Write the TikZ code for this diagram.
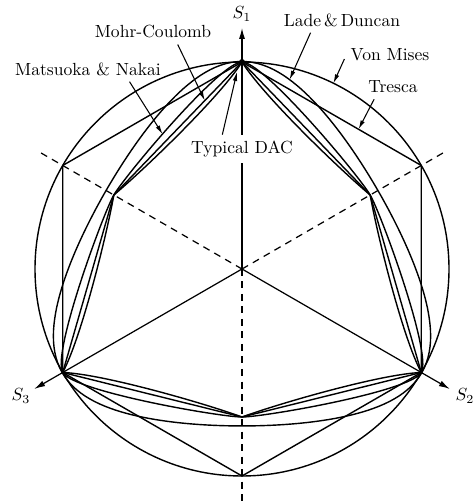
\documentclass[tikz,border=0pt]{standalone}
\usetikzlibrary{arrows.meta,calc}

\begin{document}
\begin{tikzpicture}[x=0.2mm,y=0.2mm,
  crit/.style={line width=0.8pt},
  axis/.style={-{Latex[length=2.2mm,width=1.2mm]},line width=0.7pt},
  lead/.style={-{Latex[length=1.8mm,width=0.9mm]},line width=0.6pt},
  meridian/.style={dash pattern=on 1.4mm off 1.1mm,line width=0.7pt}]
\useasboundingbox (-242,-233) rectangle (230,269);
\coordinate (O) at (0,0);
\foreach \a in {90,210,330} \coordinate (c\a) at (\a:207);
\foreach \a in {30,150,270} {\coordinate (t\a) at (\a:148); \coordinate (v\a) at (\a:207);}

% principal axes and tension meridians
\foreach \a in {30,150,270} \draw[meridian] (O) -- (\a:233);
\draw[axis] (O) -- (90:241) node[above] (s1) {$S_1$};
\draw[axis] (O) -- (210:240);
\draw[axis] (O) -- (330:240);
\node (s3) at (-221,-127) {$S_3$};
\node (s2) at (223,-127) {$S_2$};

% Von Mises and Tresca
\draw[crit] (O) circle (207);
\draw[crit] (c90) -- (v150) -- (c210) -- (v270) -- (c330) -- (v30) -- cycle;
% Mohr-Coulomb
\draw[crit] (c90) -- (t150) -- (c210) -- (t270) -- (c330) -- (t30) -- cycle;
% Matsuoka-Nakai
\draw[crit] (c90) \foreach \a in {90,210,330} { .. controls +(\a+90:22) and +(\a-30:22) .. (\a+60:148) .. controls +(\a+150:22) and +(\a+30:22) .. (\a+120:207)};
% Lade-Duncan
\draw[crit] plot[domain=0:360,samples=241,variable=\t] (\t:{150.5/cos(acos(0.65*sin(3*\t))/3)}) -- cycle;
% typical DAC
\draw[crit] (c90) \foreach \a in {90,210,330} { .. controls +(\a+148:40) and +(\a-50:40) .. (\a+60:148) .. controls +(\a+170:40) and +(\a-28:40) .. (\a+120:207)};
\fill (c90) circle (3);

% labels
\node (mc) at (-89,237) {Mohr-Coulomb};
\node (mn) at (-154,200) {Matsuoka \& Nakai};
\node[fill=white] (dac) at (0,120) {Typical DAC};
\node (ld) at (100,249) {Lade\,\&\,Duncan};
\node (vm) at (148,214) {Von Mises};
\node (tr) at (151,182) {Tresca};

\coordinate (pmc) at ($(c90)!0.29!(t150)$);
\coordinate (pmn) at (120.5:156.5);
\coordinate (pdac) at (-5,197);
\coordinate (pld) at (75.9:195.2);
\coordinate (pvm) at (63.8:207);
\coordinate (ptr) at ($(c90)!0.65!(v30)$);
\draw[lead] (mc.-27) -- (pmc);
\draw[lead] (mn.-17) -- (pmn);
\draw[lead] (dac.144) -- (pdac);
\draw[lead] (ld.-158) -- (pld);
\draw[lead] (vm.185) -- (pvm);
\draw[lead] (tr.-147) -- (ptr);
\end{tikzpicture}
\end{document}
